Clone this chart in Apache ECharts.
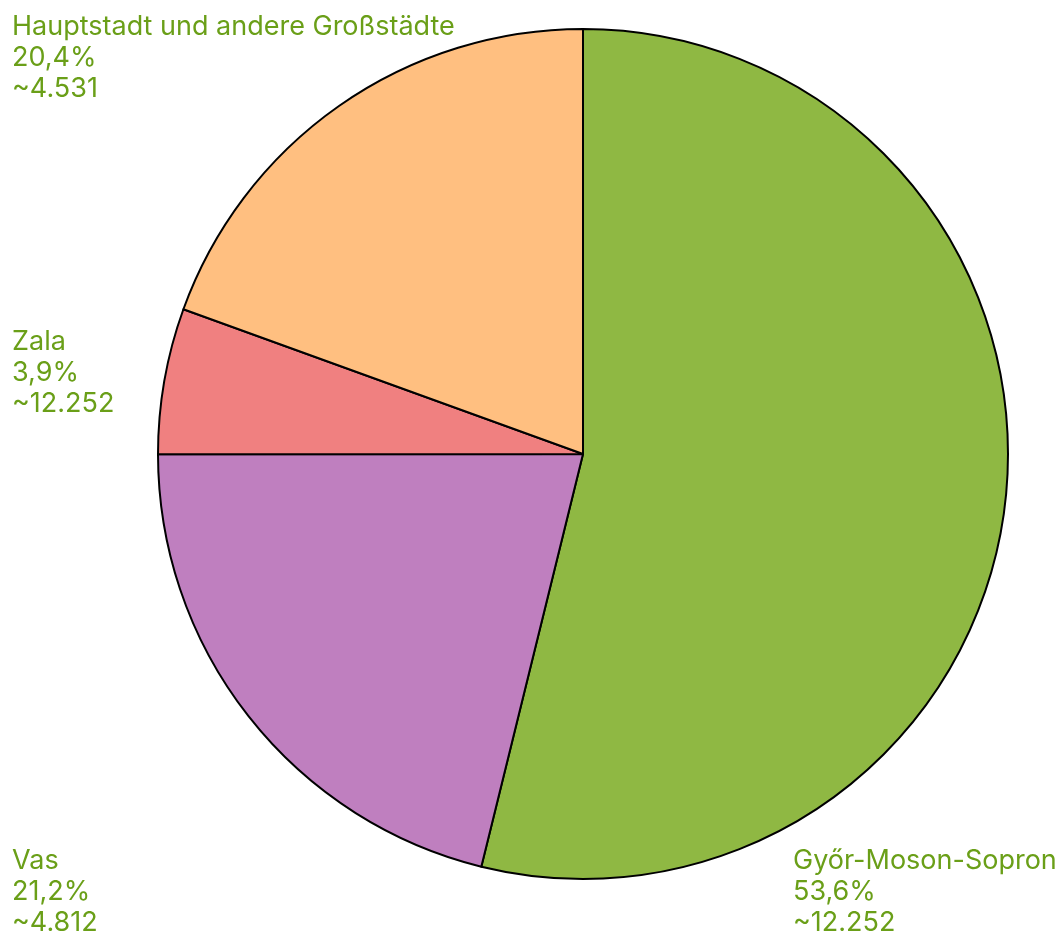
<!DOCTYPE html>
<html>
<head>
<meta charset="utf-8">
<style>html,body{margin:0;padding:0;background:#fff}#c{width:1064px;height:936px}</style>
<script src="https://cdn.jsdelivr.net/npm/echarts@6/dist/echarts.min.js"></script>
</head>
<body>
<div id="c"></div>
<script>
const categories = ['Győr-Moson-Sopron', 'Vas', 'Zala', 'Hauptstadt und andere Großstädte'];
const values = [12252, 4812, 1260, 4430];
const percentLabels = ['53,6%', '21,2%', '3,9%', '20,4%'];
const valueLabels = ['~12.252', '~4.812', '~12.252', '~4.531'];
const colors = ['#8fb843', '#bf7fbf', '#f08080', '#ffbf80'];
const labelAnchors = [[793, 845], [12, 845], [12, 326], [12, 11]];

const chart = echarts.init(document.getElementById('c'), null, {renderer: 'canvas'});
chart.setOption({
  animation: false,
  backgroundColor: '#ffffff',
  series: [{
    type: 'pie',
    center: [583, 454],
    radius: 425,
    startAngle: 90,
    clockwise: true,
    avoidLabelOverlap: false,
    data: categories.map((n, i) => ({name: n, value: values[i], itemStyle: {color: colors[i]}})),
    itemStyle: {borderColor: '#000', borderWidth: 2},
    emphasis: {disabled: true},
    label: {
      show: true,
      position: 'outside',
      color: '#6a9f18',
      fontFamily: 'Inter',
      fontSize: 27,
      lineHeight: 31,
      align: 'left',
      formatter: p => categories[p.dataIndex] + '\n' + percentLabels[p.dataIndex] + '\n' + valueLabels[p.dataIndex]
    },
    labelLine: {show: false},
    labelLayout: p => ({
      x: labelAnchors[p.dataIndex][0],
      y: labelAnchors[p.dataIndex][1],
      align: 'left',
      verticalAlign: 'top'
    })
  }]
});
</script>
</body>
</html>
